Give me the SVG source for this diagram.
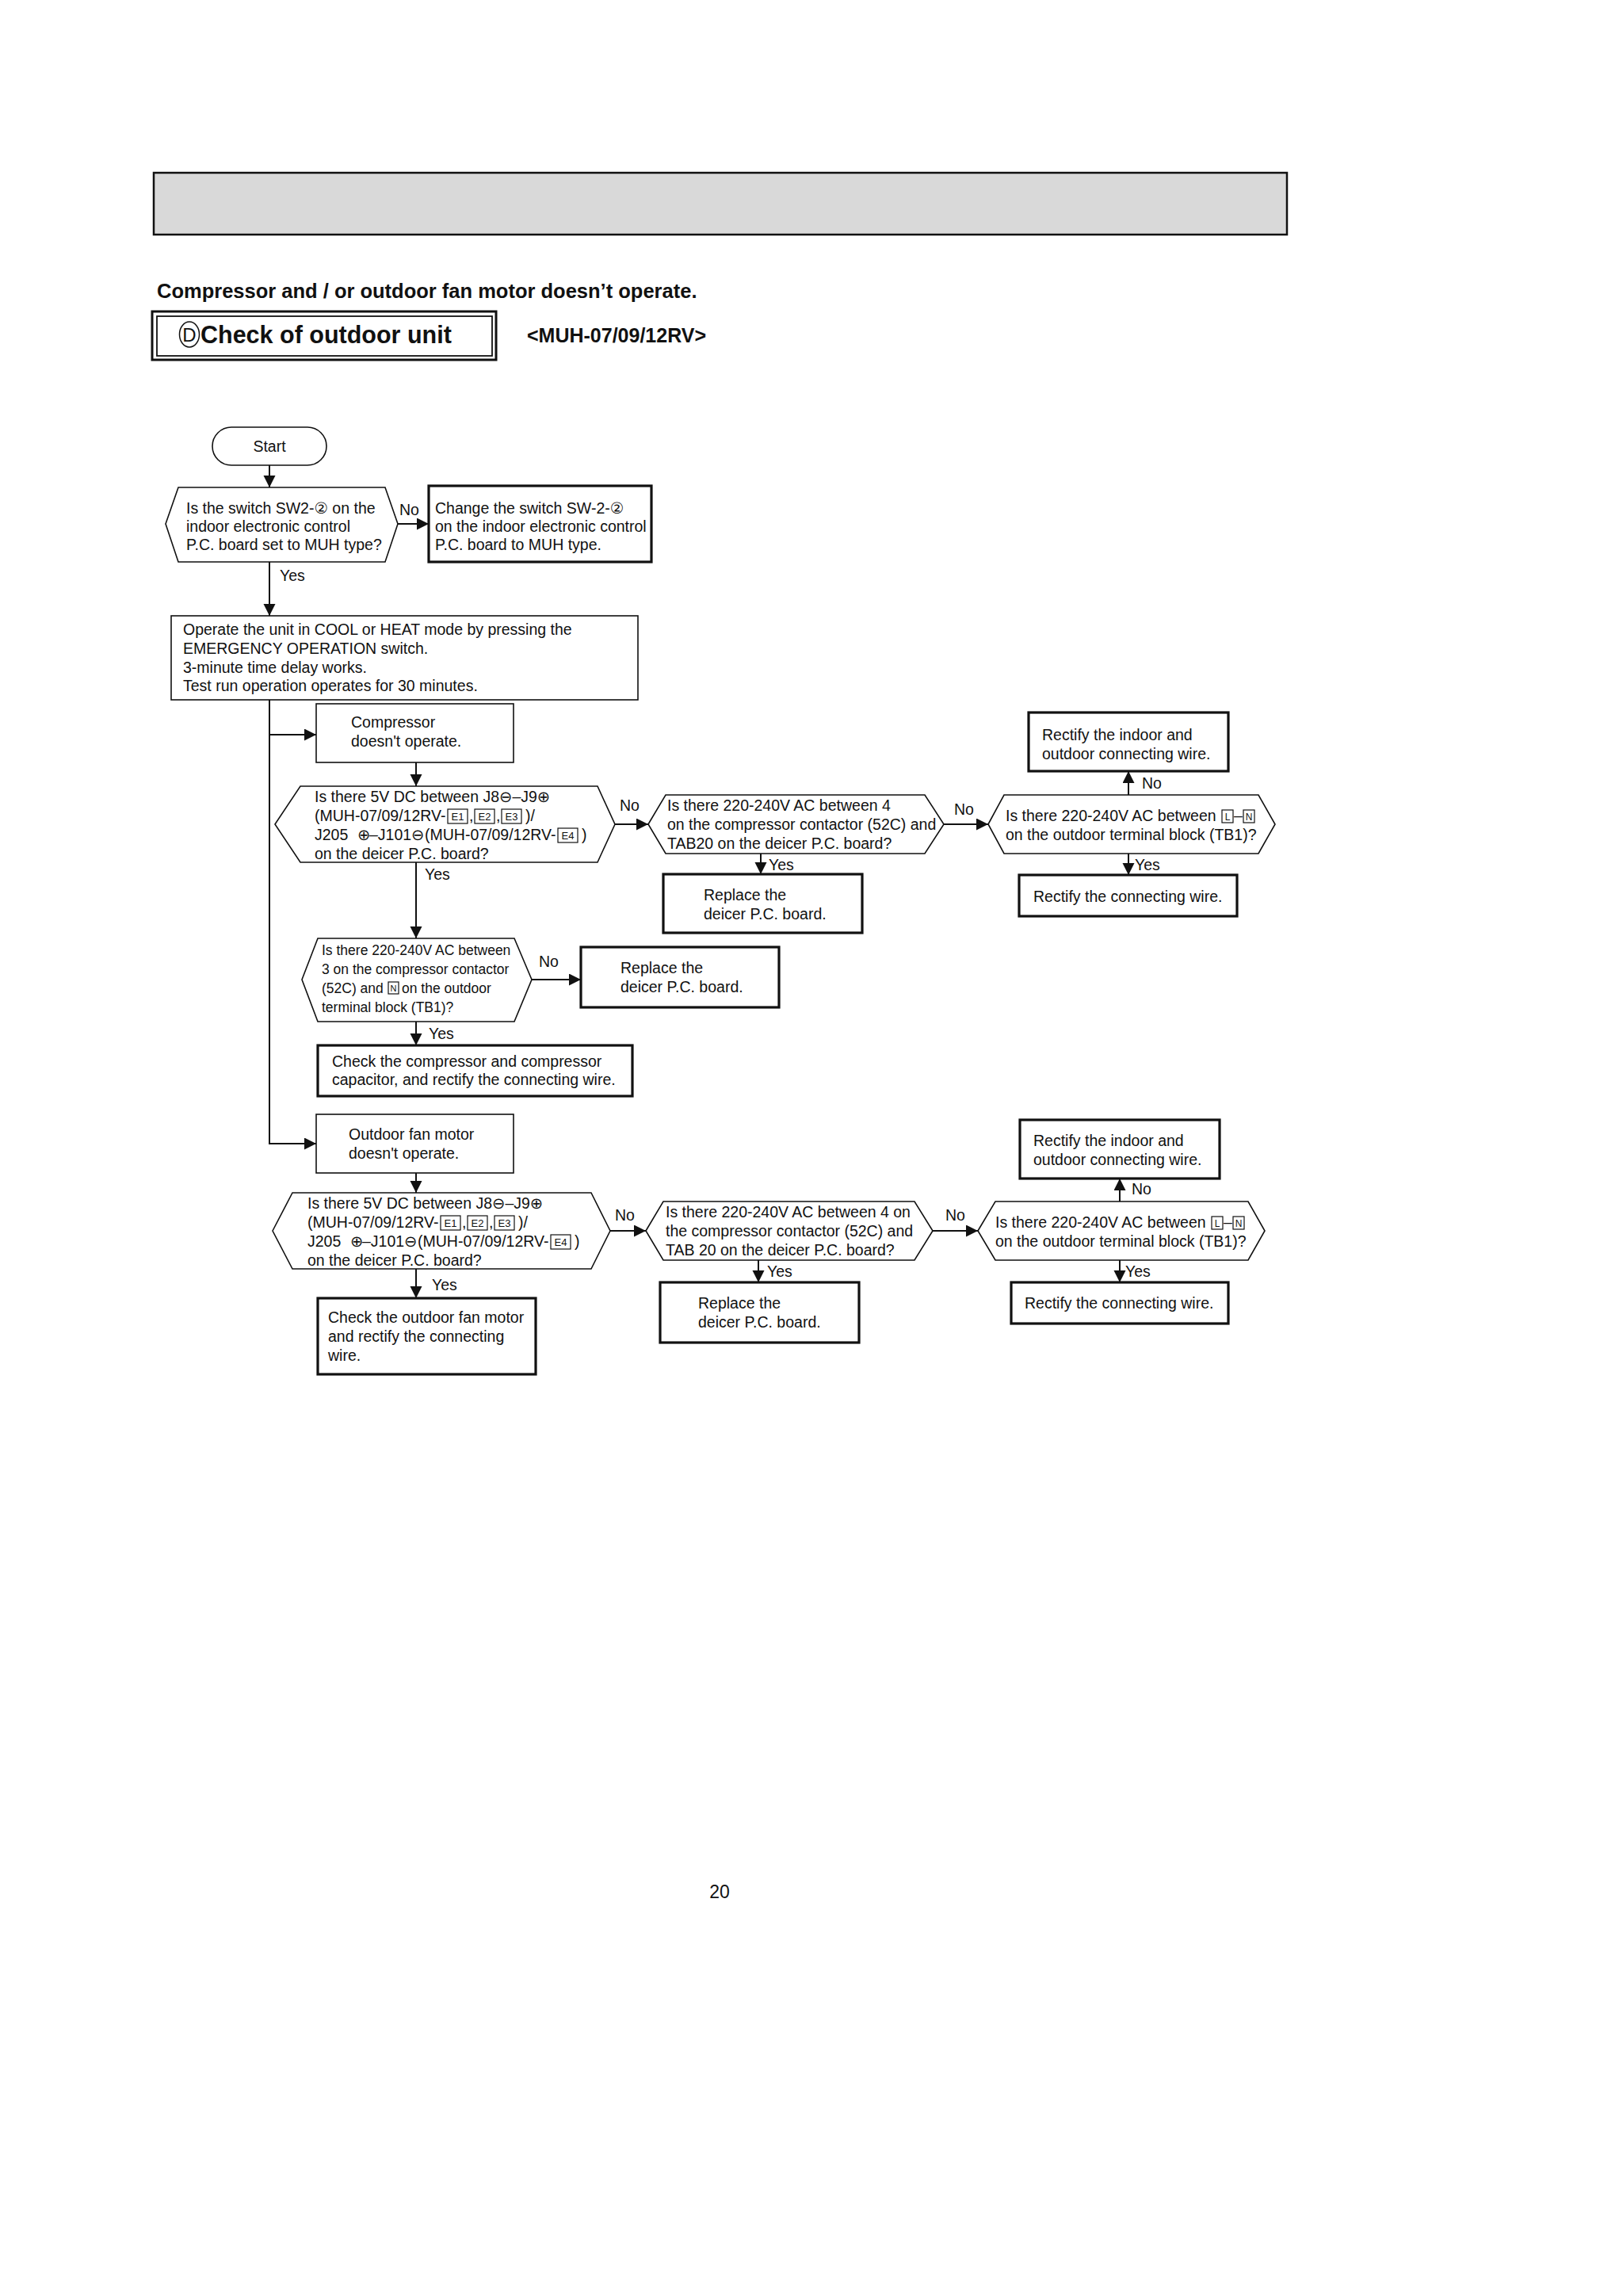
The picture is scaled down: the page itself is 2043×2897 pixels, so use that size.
<svg xmlns="http://www.w3.org/2000/svg" width="2043" height="2897" viewBox="0 0 2043 2897">
<style>
text{font-family:"Liberation Sans",Arial,"DejaVu Sans","Noto Sans CJK JP",sans-serif;fill:#111;font-size:19.5px}
.b{font-weight:bold}
.sm{font-size:17.5px}
.tag{font-size:13px;text-anchor:middle}
.tg{font-size:12px;text-anchor:middle}
.thin{fill:#fff;stroke:#111;stroke-width:1.6}
.thick{fill:#fff;stroke:#111;stroke-width:3.2}
.tb{fill:none;stroke:#111;stroke-width:1.2}
.con{fill:none;stroke:#111;stroke-width:2}
.lbl{font-size:19.5px}
</style>
<defs>
<marker id="ah" markerUnits="userSpaceOnUse" markerWidth="16" markerHeight="16" refX="15" refY="7.5" orient="auto">
<path d="M0,0 L15,7.5 L0,15 z" fill="#111"/>
</marker>
</defs>
<rect width="2043" height="2897" fill="#fff"/>

<g id="header">
<rect x="194" y="218" width="1430" height="78" fill="#d9d9d9" stroke="#111" stroke-width="2.5"/>
<text class="b" x="198" y="376" style="font-size:25.5px">Compressor and / or outdoor fan motor doesn’t operate.</text>
<rect x="192" y="393" width="434" height="61" fill="none" stroke="#111" stroke-width="3"/>
<rect x="198" y="399" width="423" height="50" fill="none" stroke="#111" stroke-width="1.8"/>
<ellipse cx="239" cy="422" rx="12.5" ry="16" fill="none" stroke="#111" stroke-width="1.5"/>
<text x="239" y="431" style="font-size:24px;text-anchor:middle">D</text>
<text class="b" x="253" y="433" style="font-size:30.5px">Check of outdoor unit</text>
<text class="b" x="665" y="432" style="font-size:25px">&lt;MUH-07/09/12RV&gt;</text>
</g>

<g id="connectors">
<path class="con" d="M340,587 V615" marker-end="url(#ah)"/>
<path class="con" d="M502,661 H541" marker-end="url(#ah)"/>
<text class="lbl" x="504" y="650">No</text>
<path class="con" d="M340,709 V777" marker-end="url(#ah)"/>
<text class="lbl" x="353" y="733">Yes</text>
<path class="con" d="M340,883 V1443 H399" marker-end="url(#ah)"/>
<path class="con" d="M340,927 H399" marker-end="url(#ah)"/>
<path class="con" d="M525,962 V992" marker-end="url(#ah)"/>
<path class="con" d="M776,1040 H818" marker-end="url(#ah)"/>
<text class="lbl" x="782" y="1023">No</text>
<path class="con" d="M1191,1040 H1247" marker-end="url(#ah)"/>
<text class="lbl" x="1204" y="1028">No</text>
<path class="con" d="M1424,1003 V973" marker-end="url(#ah)"/>
<text class="lbl" x="1441" y="995">No</text>
<path class="con" d="M1424,1077 V1104" marker-end="url(#ah)"/>
<text class="lbl" x="1432" y="1098">Yes</text>
<path class="con" d="M960,1077 V1103" marker-end="url(#ah)"/>
<text class="lbl" x="970" y="1098">Yes</text>
<path class="con" d="M525,1088 V1184" marker-end="url(#ah)"/>
<text class="lbl" x="536" y="1110">Yes</text>
<path class="con" d="M671,1236 H733" marker-end="url(#ah)"/>
<text class="lbl" x="680" y="1220">No</text>
<path class="con" d="M525,1289 V1319" marker-end="url(#ah)"/>
<text class="lbl" x="541" y="1311">Yes</text>
<path class="con" d="M525,1480 V1505" marker-end="url(#ah)"/>
<path class="con" d="M770,1553 H815" marker-end="url(#ah)"/>
<text class="lbl" x="776" y="1540">No</text>
<path class="con" d="M1177,1553 H1234" marker-end="url(#ah)"/>
<text class="lbl" x="1193" y="1540">No</text>
<path class="con" d="M1413,1516 V1487" marker-end="url(#ah)"/>
<text class="lbl" x="1428" y="1507">No</text>
<path class="con" d="M1413,1590 V1618" marker-end="url(#ah)"/>
<text class="lbl" x="1420" y="1611">Yes</text>
<path class="con" d="M957,1590 V1618" marker-end="url(#ah)"/>
<text class="lbl" x="968" y="1611">Yes</text>
<path class="con" d="M525,1601 V1638" marker-end="url(#ah)"/>
<text class="lbl" x="545" y="1628">Yes</text>
</g>

<g id="start">
<rect x="268" y="539" width="144" height="48" rx="24" class="thin"/>
<text x="340" y="570" style="text-anchor:middle">Start</text>
</g>

<g id="q-switch">
<polygon class="thin" points="209,661 225,615 486,615 502,661 486,709 225,709"/>
<text x="235" y="648">Is the switch SW2-② on the</text>
<text x="235" y="671">indoor electronic control</text>
<text x="235" y="694">P.C. board set to MUH type?</text>
</g>

<g id="change-switch">
<rect class="thick" x="541" y="613" width="281" height="96"/>
<text x="549" y="648">Change the switch SW-2-②</text>
<text x="549" y="671">on the indoor electronic control</text>
<text x="549" y="694">P.C. board to MUH type.</text>
</g>

<g id="operate">
<rect class="thin" x="216" y="777" width="589" height="106"/>
<text x="231" y="801">Operate the unit in COOL or HEAT mode by pressing the</text>
<text x="231" y="825">EMERGENCY OPERATION switch.</text>
<text x="231" y="849">3-minute time delay works.</text>
<text x="231" y="872">Test run operation operates for 30 minutes.</text>
</g>

<g id="comp-not">
<rect class="thin" x="399" y="888" width="249" height="74"/>
<text x="443" y="918">Compressor</text>
<text x="443" y="942">doesn't operate.</text>
</g>

<g id="q-5v-1">
<polygon class="thin" points="347,1040 379,992 754,992 776,1040 754,1088 379,1088"/>
<text x="397" y="1012">Is there 5V DC between J8⊖–J9⊕</text>
<text x="397" y="1036">(MUH-07/09/12RV-</text>
<rect class="tb" x="565" y="1021" width="25" height="18"/><text class="tag" x="577.5" y="1035">E1</text>
<text x="592" y="1036">,</text>
<rect class="tb" x="599" y="1021" width="25" height="18"/><text class="tag" x="611.5" y="1035">E2</text>
<text x="626" y="1036">,</text>
<rect class="tb" x="633" y="1021" width="25" height="18"/><text class="tag" x="645.5" y="1035">E3</text>
<text x="663" y="1036">)/</text>
<text x="397" y="1060">J205</text>
<text x="451" y="1060">⊕</text>
<text x="466" y="1060">–J101</text>
<text x="519" y="1060">⊖</text>
<text x="536" y="1060">(MUH-07/09/12RV-</text>
<rect class="tb" x="704" y="1045" width="25" height="18"/><text class="tag" x="716.5" y="1059">E4</text>
<text x="734" y="1060">)</text>
<text x="397" y="1084">on the deicer P.C. board?</text>
</g>

<g id="q-ac-4-1">
<polygon class="thin" points="818,1040 840,1003 1167,1003 1191,1040 1167,1077 840,1077"/>
<text x="842" y="1023">Is there 220-240V AC between 4</text>
<text x="842" y="1047">on the compressor contactor (52C) and</text>
<text x="842" y="1071">TAB20 on the deicer P.C. board?</text>
</g>

<g id="q-ln-1">
<polygon class="thin" points="1247,1040 1267,1003 1588,1003 1609,1040 1588,1077 1267,1077"/>
<text x="1269" y="1036">Is there 220-240V AC between</text>
<rect class="tb" x="1542" y="1022" width="14" height="16"/><text class="tg" x="1549" y="1035">L</text>
<text x="1557" y="1036">–</text>
<rect class="tb" x="1569" y="1022" width="14" height="16"/><text class="tg" x="1576" y="1035">N</text>
<text x="1269" y="1060">on the outdoor terminal block (TB1)?</text>
</g>

<g id="rectify-io-1">
<rect class="thick" x="1298" y="899" width="252" height="74"/>
<text x="1315" y="934">Rectify the indoor and</text>
<text x="1315" y="958">outdoor connecting wire.</text>
</g>

<g id="rectify-cw-1">
<rect class="thick" x="1286" y="1104" width="275" height="52"/>
<text x="1304" y="1138">Rectify the connecting wire.</text>
</g>

<g id="replace-1">
<rect class="thick" x="837" y="1103" width="251" height="74"/>
<text x="888" y="1136">Replace the</text>
<text x="888" y="1160">deicer P.C. board.</text>
</g>

<g id="q-ac-3">
<polygon class="thin" points="381,1236 401,1184 649,1184 671,1236 649,1289 401,1289"/>
<text class="sm" x="406" y="1205">Is there 220-240V AC between</text>
<text class="sm" x="406" y="1229">3 on the compressor contactor</text>
<text class="sm" x="406" y="1253">(52C) and</text>
<rect class="tb" x="490" y="1239" width="13" height="15"/><text class="tg" x="496.5" y="1251" style="font-size:11px">N</text>
<text class="sm" x="507" y="1253">on the outdoor</text>
<text class="sm" x="406" y="1277">terminal block (TB1)?</text>
</g>

<g id="replace-2">
<rect class="thick" x="733" y="1195" width="250" height="76"/>
<text x="783" y="1228">Replace the</text>
<text x="783" y="1252">deicer P.C. board.</text>
</g>

<g id="check-comp">
<rect class="thick" x="401" y="1319" width="397" height="64"/>
<text x="419" y="1346">Check the compressor and compressor</text>
<text x="419" y="1369">capacitor, and rectify the connecting wire.</text>
</g>

<g id="fan-not">
<rect class="thin" x="399" y="1406" width="249" height="74"/>
<text x="440" y="1438">Outdoor fan motor</text>
<text x="440" y="1462">doesn't operate.</text>
</g>

<g id="q-5v-2">
<polygon class="thin" points="344,1553 369,1505 746,1505 770,1553 746,1601 369,1601"/>
<text x="388" y="1525">Is there 5V DC between J8⊖–J9⊕</text>
<text x="388" y="1549">(MUH-07/09/12RV-</text>
<rect class="tb" x="556" y="1534" width="25" height="18"/><text class="tag" x="568.5" y="1548">E1</text>
<text x="583" y="1549">,</text>
<rect class="tb" x="590" y="1534" width="25" height="18"/><text class="tag" x="602.5" y="1548">E2</text>
<text x="617" y="1549">,</text>
<rect class="tb" x="624" y="1534" width="25" height="18"/><text class="tag" x="636.5" y="1548">E3</text>
<text x="654" y="1549">)/</text>
<text x="388" y="1573">J205</text>
<text x="442" y="1573">⊕</text>
<text x="457" y="1573">–J101</text>
<text x="510" y="1573">⊖</text>
<text x="527" y="1573">(MUH-07/09/12RV-</text>
<rect class="tb" x="695" y="1558" width="25" height="18"/><text class="tag" x="707.5" y="1572">E4</text>
<text x="725" y="1573">)</text>
<text x="388" y="1597">on the deicer P.C. board?</text>
</g>

<g id="q-ac-4-2">
<polygon class="thin" points="815,1553 837,1516 1154,1516 1177,1553 1154,1590 837,1590"/>
<text x="840" y="1536">Is there 220-240V AC between 4 on</text>
<text x="840" y="1560">the compressor contactor (52C) and</text>
<text x="840" y="1584">TAB 20 on the deicer P.C. board?</text>
</g>

<g id="q-ln-2">
<polygon class="thin" points="1234,1553 1256,1516 1575,1516 1596,1553 1575,1590 1256,1590"/>
<text x="1256" y="1549">Is there 220-240V AC between</text>
<rect class="tb" x="1529" y="1535" width="14" height="16"/><text class="tg" x="1536" y="1548">L</text>
<text x="1544" y="1549">–</text>
<rect class="tb" x="1556" y="1535" width="14" height="16"/><text class="tg" x="1563" y="1548">N</text>
<text x="1256" y="1573">on the outdoor terminal block (TB1)?</text>
</g>

<g id="rectify-io-2">
<rect class="thick" x="1287" y="1413" width="252" height="74"/>
<text x="1304" y="1446">Rectify the indoor and</text>
<text x="1304" y="1470">outdoor connecting wire.</text>
</g>

<g id="rectify-cw-2">
<rect class="thick" x="1276" y="1618" width="274" height="52"/>
<text x="1293" y="1651">Rectify the connecting wire.</text>
</g>

<g id="replace-3">
<rect class="thick" x="833" y="1618" width="251" height="76"/>
<text x="881" y="1651">Replace the</text>
<text x="881" y="1675">deicer P.C. board.</text>
</g>

<g id="check-fan">
<rect class="thick" x="401" y="1638" width="275" height="96"/>
<text x="414" y="1669">Check the outdoor fan motor</text>
<text x="414" y="1693">and rectify the connecting</text>
<text x="414" y="1717">wire.</text>
</g>

<text x="908" y="2395" style="font-size:23px;text-anchor:middle">20</text>
</svg>
